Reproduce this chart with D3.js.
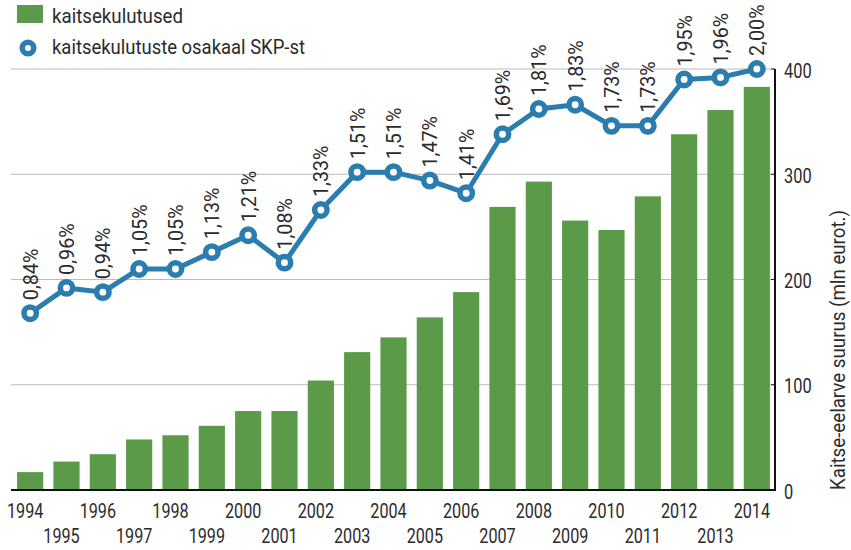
<!DOCTYPE html>
<html>
<head>
<meta charset="utf-8">
<script src="https://cdn.jsdelivr.net/npm/d3@7"></script>
<style>
  body { margin: 0; background: #fff; }
  svg text { font-family: Roboto, "DejaVu Sans", sans-serif; fill: #2b2b2b; }
</style>
</head>
<body>
<svg id="chart" width="851" height="550"></svg>
<script>
const years = d3.range(1994, 2015).map(String)
const spending = [17, 27, 34, 48, 52, 61, 75, 75, 104, 131, 145, 164, 188, 269, 293, 256, 247, 279, 338, 361, 383]
const share = [0.84, 0.96, 0.94, 1.05, 1.05, 1.13, 1.21, 1.08, 1.33, 1.51, 1.51, 1.47, 1.41, 1.69, 1.81, 1.83, 1.73, 1.73, 1.95, 1.96, 2.00]
const yTicks = [0, 100, 200, 300, 400]

const svg = d3.select('#chart')
const green = '#5b9a48', blue = '#2a7dae'

let x = d3.scaleBand().domain(years).range([12, 775]).paddingInner(0.28).paddingOuter(0.14),
    y = d3.scaleLinear().domain([0, 400]).range([490, 69]),
    yp = d3.scaleLinear().domain([0, 2]).range([490, 69])
let cx = (d, i) => x(years[i]) + x.bandwidth() / 2

// grid
svg.append('g').selectAll('line')
    .data(yTicks.slice(1))
    .join('line')
    .attr('x1', 11).attr('x2', 775)
    .attr('y1', d => y(d)).attr('y2', d => y(d))
    .style('stroke', '#bbbbbb').style('stroke-width', 1.2)

// bars
svg.append('g').selectAll('rect')
    .data(spending)
    .join('rect')
    .attr('x', (d, i) => x(years[i]))
    .attr('y', d => y(d))
    .attr('width', x.bandwidth())
    .attr('height', d => y(0) - y(d))
    .style('fill', green)

// axes
let yAxis = svg.append('g').attr('transform', 'translate(775,0)')
    .call(d3.axisRight(y).tickValues(yTicks).tickSize(0))
yAxis.select('.domain').remove()
yAxis.selectAll('.tick text')
    .attr('x', 0).attr('dy', 0)
    .attr('transform', 'translate(9,8) scale(0.78,1)')
    .style('font-size', '21px')
yAxis.selectAll('.tk').data(yTicks).join('line')
    .attr('x1', -4).attr('x2', 0).attr('y1', d => y(d)).attr('y2', d => y(d))
    .style('stroke', '#222')

svg.append('line').attr('x1', 775).attr('x2', 775).attr('y1', y(400)).attr('y2', y(0))
    .style('stroke', '#111').style('stroke-width', 2)
svg.append('line').attr('x1', 11).attr('x2', 776).attr('y1', y(0)).attr('y2', y(0))
    .style('stroke', '#111').style('stroke-width', 2.2)

let xAxis = svg.append('g').attr('transform', `translate(0,${y(0)})`)
    .call(d3.axisBottom(x).tickSize(0))
xAxis.select('.domain').remove()
xAxis.selectAll('.tick text')
    .attr('x', 0).attr('y', 0).attr('dy', 0)
    .attr('transform', (d, i) => `translate(-5,${i % 2 ? 53 : 28}) scale(0.77,1)`)
    .style('font-size', '21px')

svg.append('text')
    .attr('transform', 'translate(845,350) rotate(-90)')
    .attr('text-anchor', 'middle')
    .attr('textLength', 280).attr('lengthAdjust', 'spacingAndGlyphs')
    .style('font-size', '20px')
    .text('Kaitse-eelarve suurus (mln eurot.)')

// line
let line = d3.line().x(cx).y(d => yp(d))
svg.append('path')
    .attr('d', line(share))
    .style('fill', 'none').style('stroke', blue).style('stroke-width', 5)
    .style('stroke-linejoin', 'round')

svg.append('g').selectAll('circle')
    .data(share)
    .join('circle')
    .attr('cx', cx).attr('cy', d => yp(d))
    .attr('r', 6.2)
    .style('fill', '#fff').style('stroke', blue).style('stroke-width', 5.5)

svg.append('g').selectAll('text')
    .data(share)
    .join('text')
    .attr('transform', (d, i) => `translate(${cx(d, i) + 7.5},${yp(d) - 13}) rotate(-90) scale(0.94,1)`)
    .style('font-size', '21px')
    .text(d => d3.format('.2f')(d).replace('.', ',') + '%')

// legend
let lg = svg.append('g')
lg.append('rect').attr('x', 17).attr('y', 5).attr('width', 26).attr('height', 18).style('fill', green)
lg.append('text').attr('x', 52).attr('y', 23).style('font-size', '21px')
    .attr('textLength', 131).attr('lengthAdjust', 'spacingAndGlyphs').text('kaitsekulutused')
lg.append('circle').attr('cx', 28).attr('cy', 48).attr('r', 5.8)
    .style('fill', '#fff').style('stroke', blue).style('stroke-width', 5.5)
lg.append('text').attr('x', 52).attr('y', 54).style('font-size', '21px')
    .attr('textLength', 253).attr('lengthAdjust', 'spacingAndGlyphs').text('kaitsekulutuste osakaal SKP-st')
</script>
</body>
</html>
